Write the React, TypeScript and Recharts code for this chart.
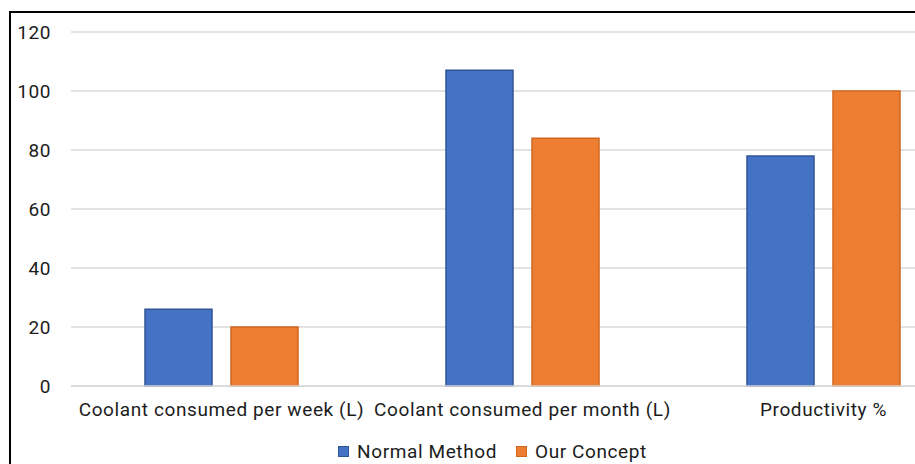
import { BarChart, Bar, XAxis, YAxis, CartesianGrid, Legend } from "recharts";

const categories = [
  "Coolant consumed per week (L)",
  "Coolant consumed per month (L)",
  "Productivity %",
];
const normalMethod = [26, 107, 78];
const ourConcept = [20, 84, 100];
const yTicks = [0, 20, 40, 60, 80, 100, 120];

const series = [
  { key: "normal", name: "Normal Method", fill: "#4472c4", stroke: "#2f5597" },
  { key: "concept", name: "Our Concept", fill: "#ed7d31", stroke: "#d0671f" },
];

const data = categories.map((name, i) => ({
  name,
  normal: normalMethod[i],
  concept: ourConcept[i],
}));

const font = "Roboto, 'Liberation Sans', Arial, sans-serif";
const textColor = "#1c1c1c";
const tickStyle = { fill: textColor, fontSize: 19, fontFamily: font, letterSpacing: 0.6 };

function LegendRow(props: any) {
  const items = props.payload ?? [];
  return (
    <div
      style={{
        display: "flex",
        justifyContent: "center",
        alignItems: "center",
        height: 28,
        fontFamily: font,
        fontSize: 19,
        letterSpacing: 0.6,
        color: textColor,
      }}
    >
      {items.map((item: any, i: number) => (
        <div key={i} style={{ display: "flex", alignItems: "center", marginLeft: i ? 19 : 0 }}>
          <span
            style={{
              width: 9,
              height: 9,
              background: item.color,
              border: `1px solid ${item.payload?.stroke ?? item.color}`,
              marginRight: 8,
            }}
          />
          <span>{item.value}</span>
        </div>
      ))}
    </div>
  );
}

export default function App() {
  return (
    <div
      style={{
        position: "fixed",
        left: 0,
        top: 0,
        width: 915,
        height: 464,
        overflow: "hidden",
        background: "#fff",
      }}
    >
      <div
        style={{
          position: "absolute",
          left: 9,
          top: 11,
          width: 1000,
          height: 500,
          borderLeft: "2px solid #000",
          borderTop: "2px solid #000",
        }}
      >
        <BarChart
          width={974}
          height={452}
          data={data}
          margin={{ top: 19, right: 11, bottom: 0, left: 0 }}
          barGap={19}
          barSize={67}
        >
          <CartesianGrid vertical={false} stroke="#d9d9d9" strokeWidth={1.5} />
          <XAxis
            dataKey="name"
            interval={0}
            height={51}
            axisLine={{ stroke: "#d9d9d9", strokeWidth: 1.5 }}
            tickLine={false}
            tickMargin={11}
            tick={tickStyle}
          />
          <YAxis
            width={60}
            domain={[0, 120]}
            ticks={yTicks}
            axisLine={false}
            tickLine={false}
            tickMargin={14}
            tick={tickStyle}
          />
          <Legend verticalAlign="bottom" content={<LegendRow />} />
          {series.map((s) => (
            <Bar
              key={s.key}
              dataKey={s.key}
              name={s.name}
              fill={s.fill}
              stroke={s.stroke}
              strokeWidth={1.5}
              isAnimationActive={false}
            />
          ))}
        </BarChart>
      </div>
    </div>
  );
}
